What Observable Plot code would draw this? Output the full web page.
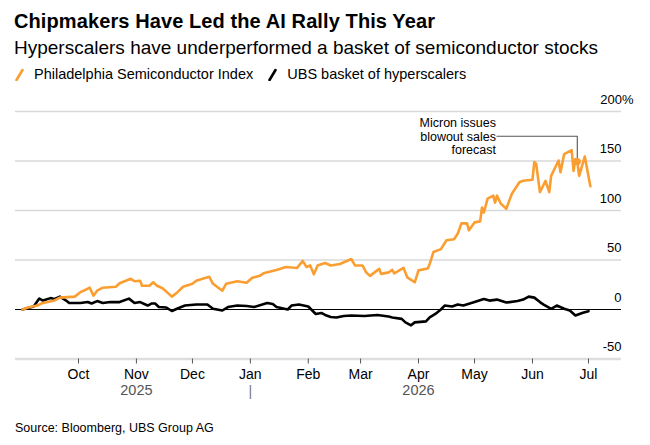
<!DOCTYPE html>
<html>
<head>
<meta charset="utf-8">
<script src="https://cdn.jsdelivr.net/npm/d3@7"></script>
<script src="https://cdn.jsdelivr.net/npm/@observablehq/plot@0.6"></script>
<style>
  html, body { margin: 0; padding: 0; background: #fff; }
  body { width: 650px; height: 445px; position: relative; overflow: hidden;
         font-family: "Liberation Sans", Arial, sans-serif; color: #000; }
  .t { position: absolute; left: 14px; white-space: nowrap; line-height: 1; }
  #title { top: 11px; font-size: 20px; font-weight: bold; letter-spacing: 0.1px; }
  #subtitle { top: 38px; font-size: 19px; }
  #legend { top: 66.5px; font-size: 14.5px; left: 15px; }
  #legend span.item { display: inline-flex; align-items: flex-end; }
  #legend svg { margin-right: 10px; vertical-align: baseline; }
  #source { top: 421.5px; font-size: 12.5px; left: 15px; }
  #chart { position: absolute; left: 0; top: 90px; }
</style>
</head>
<body>
<div id="title" class="t"></div>
<div id="subtitle" class="t"></div>
<div id="legend" class="t"></div>
<div id="chart"></div>
<div id="source" class="t"></div>
<script>
// ---- Text ----
const titleText = "Chipmakers Have Led the AI Rally This Year";
const subtitleText = "Hyperscalers have underperformed a basket of semiconductor stocks";
const sourceText = "Source: Bloomberg, UBS Group AG";
const seriesNames = ["Philadelphia Semiconductor Index", "UBS basket of hyperscalers"];
const seriesColors = ["#fa9e32", "#000000"];

// ---- Philadelphia Semiconductor Index (% change) ----
const soxDates = ["2025-09-01","2025-09-04","2025-09-09","2025-09-11","2025-09-18","2025-09-21","2025-09-29",
"2025-10-02","2025-10-06","2025-10-07","2025-10-09","2025-10-11","2025-10-14","2025-10-21","2025-10-23","2025-10-29","2025-10-31",
"2025-11-03","2025-11-04","2025-11-08","2025-11-10","2025-11-12","2025-11-15","2025-11-20","2025-11-23","2025-11-26",
"2025-12-01","2025-12-03","2025-12-10","2025-12-12","2025-12-17","2025-12-19","2025-12-25","2025-12-30",
"2026-01-02","2026-01-06","2026-01-08","2026-01-15","2026-01-20","2026-01-26","2026-01-29","2026-01-31",
"2026-02-02","2026-02-04","2026-02-06","2026-02-10","2026-02-13","2026-02-18","2026-02-24","2026-02-26",
"2026-03-02","2026-03-04","2026-03-06","2026-03-11","2026-03-12","2026-03-16","2026-03-18","2026-03-19","2026-03-24","2026-03-26","2026-03-30",
"2026-04-01","2026-04-06","2026-04-07","2026-04-09","2026-04-13","2026-04-16","2026-04-20","2026-04-22","2026-04-24","2026-04-27","2026-04-28",
"2026-05-01","2026-05-04","2026-05-05","2026-05-06","2026-05-08","2026-05-11","2026-05-12","2026-05-13","2026-05-15","2026-05-18","2026-05-20","2026-05-21","2026-05-25","2026-05-27",
"2026-06-01","2026-06-02","2026-06-03","2026-06-05","2026-06-08","2026-06-10","2026-06-11","2026-06-15","2026-06-16","2026-06-18","2026-06-22","2026-06-23","2026-06-24","2026-06-25","2026-06-26","2026-06-29",
"2026-07-02"];
const soxValues = [0,2,4,6,9,12,13,
17.5,21,22,14,19,22,23,26.5,31,28.5,
29,24,24,27.5,24,21.5,13,17.5,23,
26,29,33,26,19,26,28.5,27,
32,34,36.5,40,43,42,49,43,
44.5,35.5,44.5,47,44.5,46,51,44.5,
44.5,37.5,34,41,36,37.5,40,36.5,42,32.5,27.5,
39.5,41.5,46,58,61,70,71,76.5,87,87,80,
88,89,103,98,112,115,108,115,107,101.7,112,117,128.5,130,
131,149,147,118.5,130,118.5,135,150.5,138.7,157,161,140,152,149.5,135,154.5,
124.5];

// ---- UBS basket of hyperscalers (% change) ----
const ubsDates = ["2025-09-01","2025-09-07","2025-09-10","2025-09-12","2025-09-16","2025-09-18","2025-09-21","2025-09-24","2025-09-26",
"2025-10-02","2025-10-06","2025-10-08","2025-10-11","2025-10-14","2025-10-18","2025-10-23","2025-10-28","2025-10-31",
"2025-11-03","2025-11-07","2025-11-09","2025-11-11","2025-11-13","2025-11-17","2025-11-20","2025-11-23","2025-11-27",
"2025-12-03","2025-12-09","2025-12-12","2025-12-17","2025-12-20","2025-12-25","2025-12-30",
"2026-01-03","2026-01-10","2026-01-13","2026-01-15","2026-01-21","2026-01-23","2026-01-27",
"2026-02-01","2026-02-05","2026-02-08","2026-02-10","2026-02-13","2026-02-16","2026-02-20","2026-02-24",
"2026-03-03","2026-03-10","2026-03-16","2026-03-18","2026-03-23","2026-03-25","2026-03-28","2026-03-30",
"2026-04-05","2026-04-07","2026-04-10","2026-04-13","2026-04-15","2026-04-19","2026-04-22","2026-04-25",
"2026-05-01","2026-05-06","2026-05-09","2026-05-13","2026-05-18","2026-05-24","2026-05-27","2026-05-30",
"2026-06-02","2026-06-05","2026-06-07","2026-06-11","2026-06-14","2026-06-18","2026-06-21","2026-06-24","2026-06-28",
"2026-07-01"];
const ubsValues = [0,3,11,9,11.5,10.5,13,9.5,6.5,
6.5,7.5,6,8.5,6.5,7.5,7.5,11,6.5,
7.5,4,6,6,2.5,2,-1.5,1,4,
5,5,0.7,-1,2.5,4,3.5,
2.5,6.5,5.5,2.5,0,4,5,
3,-4.5,-3.5,-5.5,-7.5,-8,-6.5,-6,
-6.5,-5.5,-7,-8,-9.5,-13,-16,-13,
-12,-8,-4.5,0,4,3,5,4,
7.5,10.5,9,10,7,8.5,10,13,
12,7.5,5,0.7,4,0.7,-1,-6,-3.3,
-1.7];

// ---- Axes ----
const yTicks = [-50, 0, 50, 100, 150, 200];
const monthTicks = ["2025-10-01","2025-11-01","2025-12-01","2026-01-01","2026-02-01","2026-03-01","2026-04-01","2026-05-01","2026-06-01","2026-07-01"];
const yearLabels = ["2025", "2026"];
const yearLabelDates = ["2025-11-01", "2026-04-01"];
const yearBreakDate = ["2026-01-01"];

// ---- Annotation ----
const noteText = "Micron issues\nblowout sales\nforecast";
const noteDate = "2026-06-25";
const noteValue = 149.5;
const noteLabelDate = "2026-05-13";
const noteLabelValue = 175;

// ---- Build ----
const parse = s => new Date(s + "T00:00:00Z");
const sox = soxDates.map((d, i) => ({date: parse(d), value: soxValues[i]}));
const ubs = ubsDates.map((d, i) => ({date: parse(d), value: ubsValues[i]}));
const connector = [
  {date: parse(noteLabelDate), value: noteLabelValue},
  {date: parse(noteDate), value: noteLabelValue},
  {date: parse(noteDate), value: noteValue}
];

document.getElementById("title").textContent = titleText;
document.getElementById("subtitle").textContent = subtitleText;
document.getElementById("source").textContent = sourceText;
const legend = document.getElementById("legend");
seriesNames.forEach((name, i) => {
  const item = document.createElement("span");
  item.className = "item";
  item.style.marginRight = "15px";
  item.innerHTML = `<svg width="9" height="13" viewBox="0 0 9 13"><line x1="1.5" y1="12" x2="7.5" y2="2" stroke="${seriesColors[i]}" stroke-width="2.6" stroke-linecap="round"/></svg>`;
  const label = document.createElement("span");
  label.textContent = name;
  item.appendChild(label);
  legend.appendChild(item);
});

const fontFamily = '"Liberation Sans", Arial, sans-serif';
const chart = Plot.plot({
  width: 650,
  height: 320,
  marginTop: 21,
  marginBottom: 51.5,
  marginLeft: 15,
  marginRight: 29,
  x: {type: "utc", domain: [new Date("2025-08-28T06:37:00Z"), new Date("2026-07-18T15:58:00Z")], label: null},
  y: {domain: [-50, 200], label: null},
  style: {fontFamily, fontSize: "13px", color: "#000", background: "transparent", overflow: "visible"},
  marks: [
    Plot.gridY(yTicks.filter(d => d > -50 && d !== 0), {stroke: "#d9d9d9", strokeOpacity: 1, strokeWidth: 1.4}),
    Plot.ruleY([-50], {stroke: "#dedede", strokeWidth: 2.6}),
    Plot.axisY(yTicks.filter(d => d !== 200), {anchor: "right", label: null, tickSize: 0, tickPadding: 0, textAnchor: "end", dy: -12, fontSize: 13, tickFormat: d => String(d)}),
    Plot.axisY([200], {anchor: "right", label: null, tickSize: 0, tickPadding: 0, textAnchor: "end", dx: 12, dy: -12, fontSize: 13, tickFormat: d => d + "%"}),
    Plot.axisX(monthTicks.map(parse), {label: null, tickSize: 5, tickPadding: 5, stroke: "#555", fontSize: 14, tickFormat: d3.utcFormat("%b")}),
    Plot.text(yearLabels, {x: (d, i) => parse(yearLabelDates[i]), text: d => d, frameAnchor: "bottom", dy: 36, fill: "#555", fontSize: 14.5}),
    Plot.text(yearBreakDate, {x: d => parse(d), text: () => "|", frameAnchor: "bottom", dy: 36.5, fill: "#777", fontSize: 14}),
    Plot.ruleY([0], {stroke: "#000", strokeWidth: 1.1}),
    Plot.line(ubs, {x: "date", y: "value", stroke: seriesColors[1], strokeWidth: 2.6, strokeLinejoin: "round"}),
    Plot.line(sox, {x: "date", y: "value", stroke: seriesColors[0], strokeWidth: 2.6, strokeLinejoin: "round"}),
    Plot.line(connector, {x: "date", y: "value", stroke: "#555", strokeWidth: 1.1}),
    Plot.dot([{date: parse(noteDate), value: noteValue}], {x: "date", y: "value", r: 3.6, fill: seriesColors[0]}),
    Plot.text([noteText], {x: () => parse(noteLabelDate), y: () => noteLabelValue, text: d => d, textAnchor: "end", lineAnchor: "middle", lineHeight: 1.1, dx: -1, fontSize: 12.5, fill: "#000"})
  ]
});
document.getElementById("chart").appendChild(chart);
</script>
</body>
</html>
